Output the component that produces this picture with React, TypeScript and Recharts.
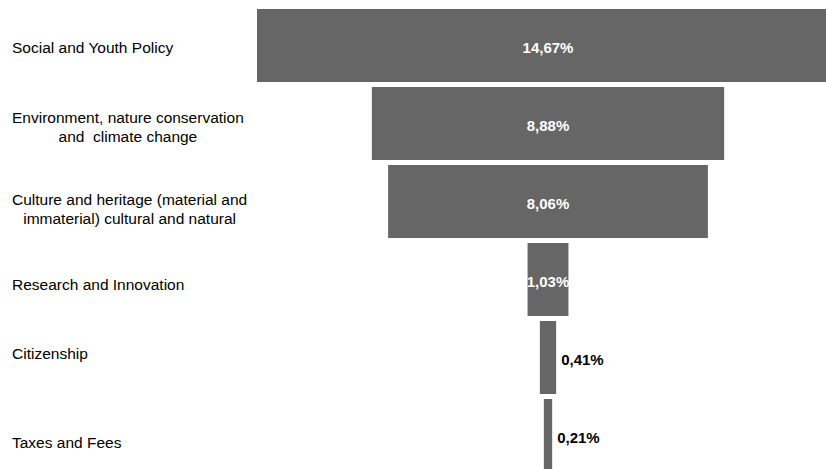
import { BarChart, Bar, XAxis, YAxis, LabelList } from 'recharts';

// categories, top to bottom
const categories = [
  'Social and Youth Policy',
  'Environment, nature conservation\nand  climate change',
  'Culture and heritage (material and\nimmaterial) cultural and natural',
  'Research and Innovation',
  'Citizenship',
  'Taxes and Fees',
];

// share of total (%)
const shares = [14.67, 8.88, 8.06, 1.03, 0.41, 0.21];

const maxShare = Math.max(...shares);

// funnel: invisible half-gap on the left keeps every bar centred
const data = categories.map((name, i) => ({
  name,
  pad: (maxShare - shares[i]) / 2,
  share: shares[i],
}));

// the text boxes in the original sit a little off the band centres
const labelNudge = [2, 4, 8, 5, -4, 7];

const FONT = '"Liberation Sans", Arial, sans-serif';
const BAR = '#666666';

const fmt = (v: number) => v.toFixed(2).replace('.', ',') + '%';

const CategoryTick = (props: any) => {
  const { y, payload, index } = props;
  const multi = String(payload.value).includes('\n');
  const dy = labelNudge[index] ?? 3;
  return (
    <foreignObject x={12} y={y - 40 + dy} width={245} height={80}>
      <div
        style={{
          height: 80,
          display: 'flex',
          alignItems: 'center',
          fontFamily: FONT,
          fontSize: 15.5,
          lineHeight: '19px',
          color: '#000',
        }}
      >
        <div style={{ display: 'inline-block', textAlign: multi ? 'center' : 'left', whiteSpace: 'pre' }}>
          {payload.value}
        </div>
      </div>
    </foreignObject>
  );
};

const ValueLabel = (props: any) => {
  const { x, y, width, height, value } = props;
  const inside = width > 30;
  return (
    <text
      x={inside ? x + width / 2 : x + width + 5}
      y={y + height / 2 + 2}
      textAnchor={inside ? 'middle' : 'start'}
      dominantBaseline="central"
      fill={inside ? '#ffffff' : '#000000'}
      fontFamily={FONT}
      fontSize={15}
      fontWeight="bold"
    >
      {fmt(value)}
    </text>
  );
};

export default function App() {
  return (
    <div style={{ position: 'absolute', left: 0, top: 0, width: 826, height: 469, overflow: 'hidden', background: '#fff' }}>
      <BarChart
        width={840}
        height={481}
        data={data}
        layout="vertical"
        margin={{ top: 6, right: 1, bottom: 7, left: 0 }}
        barSize={73}
      >
        <XAxis type="number" hide domain={[0, maxShare]} allowDataOverflow />
        <YAxis
          type="category"
          dataKey="name"
          width={257}
          axisLine={false}
          tickLine={false}
          tick={<CategoryTick />}
          interval={0}
        />
        <Bar dataKey="pad" stackId="f" fill="transparent" isAnimationActive={false} />
        <Bar dataKey="share" stackId="f" fill={BAR} isAnimationActive={false}>
          <LabelList dataKey="share" content={<ValueLabel />} />
        </Bar>
      </BarChart>
    </div>
  );
}
